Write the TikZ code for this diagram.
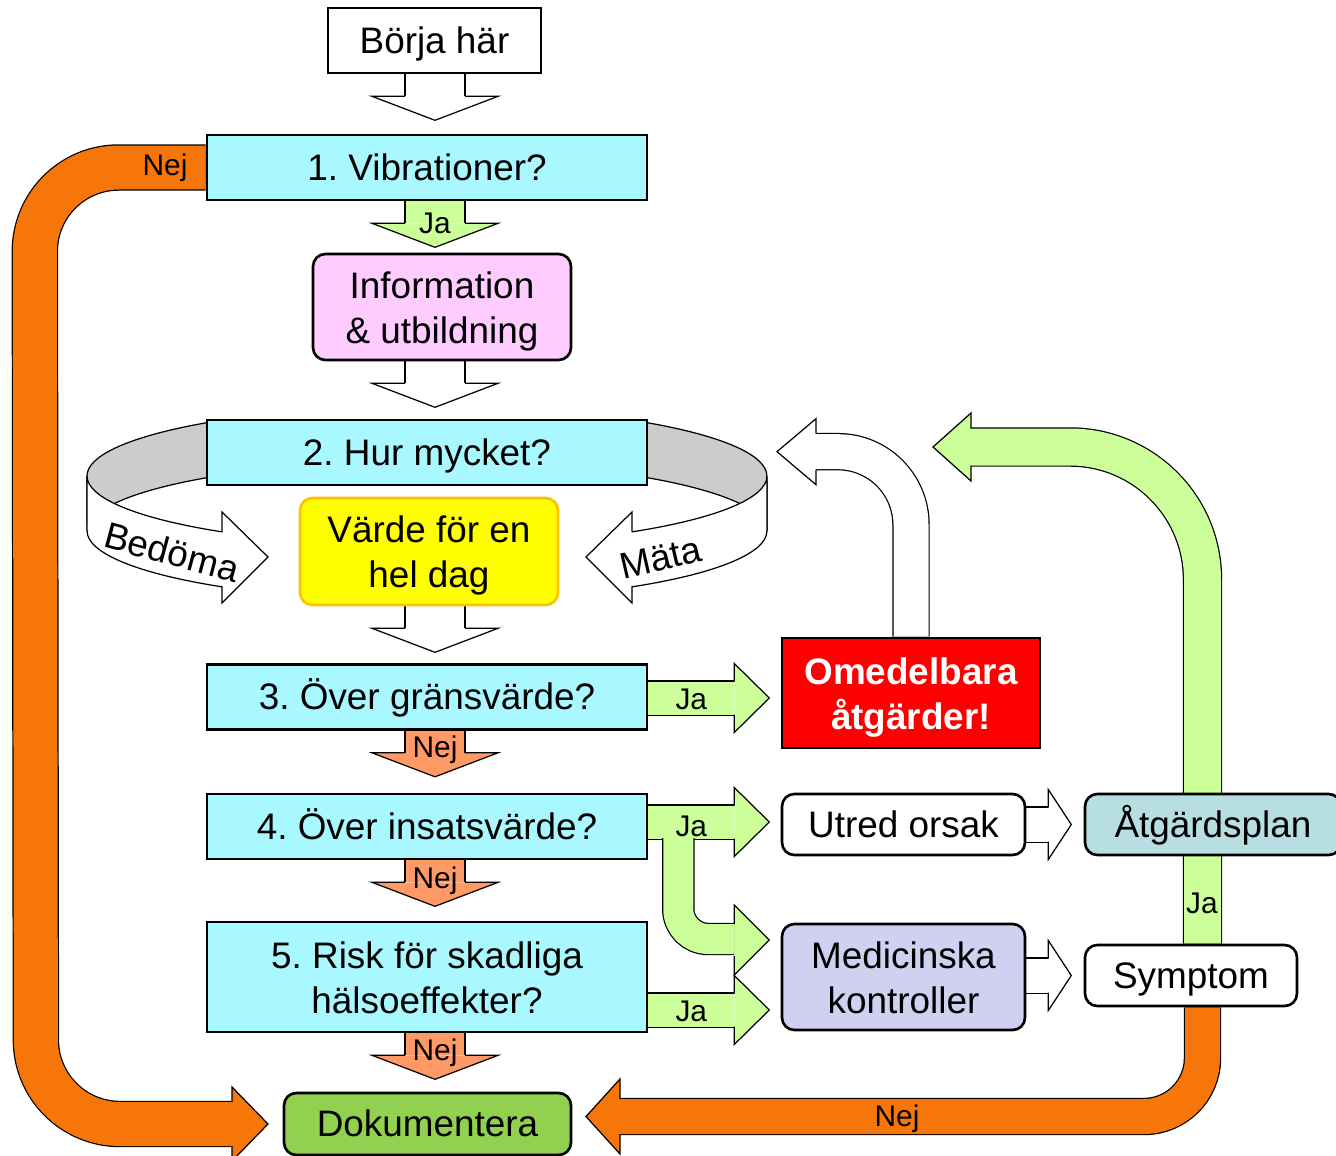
\documentclass[tikz,border=0pt]{standalone}
\usepackage{fontspec}
\setmainfont{Liberation Sans}
\frenchspacing
\usetikzlibrary{calc,backgrounds}
\definecolor{qcyan}{HTML}{AAF8FF}
\definecolor{infopink}{HTML}{FFCCFF}
\definecolor{valyellow}{HTML}{FFFF00}
\definecolor{valborder}{HTML}{FFC000}
\definecolor{jagreen}{HTML}{CCFF99}
\definecolor{nejsalmon}{HTML}{FF9966}
\definecolor{nejorange}{HTML}{F7760A}
\definecolor{docgreen}{HTML}{92D050}
\definecolor{plancyan}{HTML}{B7DEE1}
\definecolor{medblue}{HTML}{D0D0F0}
\definecolor{ringgray}{HTML}{CCCCCC}
\newcommand{\linestrut}{\rule[-0.212em]{0pt}{1.117em}}
\newcommand{\topstrut}{\rule{0pt}{0.96em}}
\tikzset{
  box/.style={draw, line width=1.5pt, align=center, inner sep=2pt, font=\fontsize{21}{25.5}\selectfont,
    execute at begin node=\linestrut, execute at end node=\linestrut},
  qbox/.style={box, fill=qcyan, minimum width=8.8cm, minimum height=1.3cm},
  rbox/.style={box, rounded corners=7pt},
  shaft/.style={line width=0.7pt, double=#1},
  head/.style={fill=#1, draw, line width=0.7pt},
  lbl/.style={inner sep=0pt, font=\fontsize{17}{20}\selectfont},
  ringtxt/.style={inner sep=0pt, font=\fontsize{21}{25}\selectfont}
}

\begin{document}
\begin{tikzpicture}[x=0.02cm, y=-0.02cm]
\useasboundingbox (0,0) rectangle (1336,1156);
\node[box, minimum width=4.26cm, minimum height=1.3cm] (start) at (434.5,40.5) {Börja här};
\node[qbox] (q1) at (427,167.5) {1. Vibrationer?};
\node[rbox, fill=infopink, minimum width=5.16cm, minimum height=2.12cm] (info) at (442,307) {\topstrut Information\\\& utbildning};
\node[qbox] (q2) at (427,452.5) {2. Hur mycket?};
\node[rbox, fill=valyellow, draw=valborder, minimum width=5.16cm, minimum height=2.14cm] (val) at (429,551.5) {\topstrut Värde för en\\hel dag};
\node[qbox] (q3) at (427,697) {3. Över gränsvärde?};
\node[qbox] (q4) at (427,826.5) {4. Över insatsvärde?};
\node[qbox, minimum height=2.2cm] (q5) at (427,977) {\topstrut 5. Risk för skadliga\\hälsoeffekter?};
\node[rbox, fill=docgreen, minimum width=5.74cm, minimum height=1.24cm] (doc) at (427.5,1124) {Dokumentera};
\node[box, fill=red, text=white, font=\fontsize{21}{25.5}\selectfont\bfseries, minimum width=5.16cm, minimum height=2.2cm] (now) at (911,693) {\topstrut Omedelbara\\åtgärder!};
\node[rbox, fill=white, minimum width=4.86cm, minimum height=1.22cm] (utred) at (903.5,824.5) {Utred orsak};
\node[rbox, fill=plancyan, minimum width=5.12cm, minimum height=1.22cm] (plan) at (1213,824.5) {Åtgärdsplan};
\node[rbox, fill=medblue, minimum width=4.86cm, minimum height=2.12cm] (med) at (903.5,977) {\topstrut Medicinska\\kontroller};
\node[rbox, fill=white, minimum width=4.24cm, minimum height=1.22cm] (symp) at (1191,975.5) {Symptom};

\begin{pgfonlayer}{background}
% ring round question 2
\coordinate (rc) at (427,476);
\coordinate (rd) at (427,531);
\begin{scope}
\clip (0,421) rectangle (1336,1156);
\filldraw[fill=ringgray, line width=0.7pt] ($(rc)+(-340,0)$) arc[start angle=180, end angle=0, x radius=6.8cm, y radius=1.4cm] -- ($(rd)+(340,0)$) arc[start angle=0, end angle=180, x radius=6.8cm, y radius=1.4cm] -- cycle;
\end{scope}
\filldraw[fill=white, line width=0.7pt] ($(rc)+(-340,0)$) arc[start angle=180, end angle=232.9, x radius=6.8cm, y radius=1.4cm] -- (222,512) -- (268,557) -- (222,603) -- ($(rd)+(232.9:6.8cm and 1.4cm)$) arc[start angle=232.9, end angle=180, x radius=6.8cm, y radius=1.4cm] -- cycle;
\filldraw[fill=white, line width=0.7pt] ($(rc)+(340,0)$) arc[start angle=0, end angle=-52.9, x radius=6.8cm, y radius=1.4cm] -- (632,512) -- (586,557) -- (632,603) -- ($(rd)+(-52.9:6.8cm and 1.4cm)$) arc[start angle=-52.9, end angle=0, x radius=6.8cm, y radius=1.4cm] -- cycle;

% down arrows
\coordinate (ax) at (435,0);
\foreach \n/\c in {start/white, q1/jagreen, info/white, val/white, q3/nejsalmon, q4/nejsalmon, q5/nejsalmon}{
  \draw[shaft=\c, double distance=1.18cm] (ax |- \n.south) -- ++(0,22);
  \draw[head=\c] ($(ax |- \n.south)+(-30,22)$) -- ++(-33,0) -- ++(63,24) -- ++(63,-24) -- ++(-33,0);
}

% Ja arrows to the right
\foreach \n/\dy in {q3/1, q4/-4.5, q5/33}{
  \draw[shaft=jagreen, double distance=0.66cm] ($(\n.east)+(0,\dy)$) -- ++(86,0);
  \draw[head=jagreen] ($(\n.east)+(86,\dy-16.5)$) -- ++(0,-18) -- ++(35,34.5) -- ++(-35,34.5) -- ++(0,-18);
}
\draw[shaft=jagreen, double distance=0.6cm, rounded corners=0.6cm] ($(q4.east)+(30,11.5)$) -- ++(0,101) -- ++(56,0);
\draw[head=jagreen] ($(q4.east)+(86,97.5)$) -- ++(0,-19) -- ++(35,35) -- ++(-35,35) -- ++(0,-19);

% white arrow up from now
\draw[shaft=white, double distance=0.7cm, rounded corners=1.46cm] (now.north) -- ++(0,-185) -- ++(-95,0);
\draw[head=white] ($(now.north)+(-95,-203)$) -- ++(0,-15) -- ++(-39,33) -- ++(39,33) -- ++(0,-15);

% white arrows to plan and symptom
\foreach \a/\b in {utred/plan, med/symp}{
  \draw[shaft=white, double distance=0.68cm] (\a.east |- \b.west) -- ++(22,0);
  \draw[head=white] ($(\a.east |- \b.west)+(22,-17)$) -- ++(0,-18) -- ++(23,35) -- ++(-23,35) -- ++(0,-18);
}

% big green loop back
\draw[shaft=jagreen, double distance=0.74cm, rounded corners=2.65cm] ($(symp.north)+(11.5,0)$) -- (1202.5,447) -- (971,447);
\draw[head=jagreen] (971,428.5) -- ++(0,-15.5) -- (933,447) -- (971,481) -- ++(0,-15.5);

% orange Nej loops
\draw[shaft=nejorange, double distance=0.7cm, rounded corners=1.17cm] ($(symp.south)+(11.5,0)$) -- (1202.5,1116.5) -- (620,1116.5);
\draw[head=nejorange] (620,1099) -- ++(0,-20) -- (586,1116.5) -- (620,1154) -- ++(0,-20);
\draw[shaft=nejorange, double distance=0.88cm, rounded corners=1.68cm] (q1.west) -- ++(-171,0) -- (36,1124) -- (232,1124);
\draw[head=nejorange] (232,1102) -- ++(0,-15) -- (268,1124) -- (232,1161) -- ++(0,-15);
\end{pgfonlayer}

\node[ringtxt, rotate=-15] (bed) at (172,552) {Bedöma};
\node[ringtxt, rotate=13] (mata) at (661,558) {Mäta};
\node[lbl] (ja1) at ($(ax |- q1.south)+(0,22)$) {Ja};
\node[lbl] (nej3) at ($(ax |- q3.south)+(0,19)$) {Nej};
\node[lbl] (nej4) at ($(ax |- q4.south)+(0,20)$) {Nej};
\node[lbl] (nej5) at ($(ax |- q5.south)+(0,19)$) {Nej};
\node[lbl] (ja3) at ($(q3.east)+(43,2)$) {Ja};
\node[lbl] (ja4) at ($(q4.east)+(43,0)$) {Ja};
\node[lbl] (ja5) at ($(q5.east)+(43,34)$) {Ja};
\node[lbl] (ja6) at ($(plan.south)!0.5!(symp.north)+(0,3)$) {Ja};
\node[lbl] (nej1) at (165,168) {Nej};
\node[lbl] (nej6) at (897,1119) {Nej};
\end{tikzpicture}
\end{document}
